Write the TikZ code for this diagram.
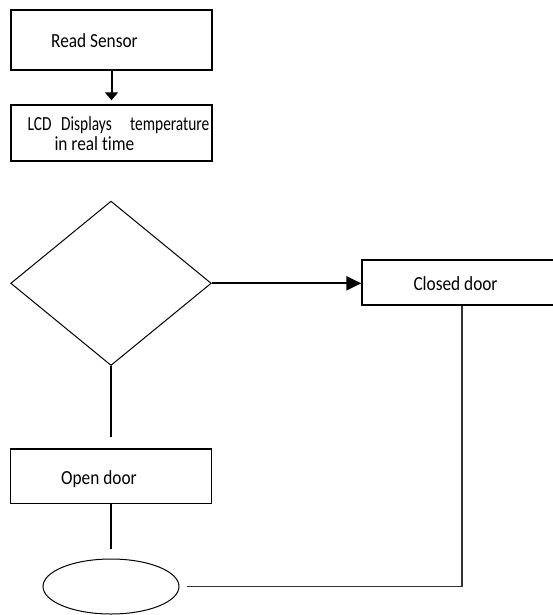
\documentclass[tikz,border=0pt]{standalone}
\usepackage{fontspec}
\setmainfont[RawFeature=-liga]{Carlito}
\usetikzlibrary{arrows.meta,shapes.geometric}
\newcommand\hsq[1]{\scalebox{0.865}[1]{#1}}
\newcommand\hsqn[1]{\scalebox{0.77}[1]{#1}}
\begin{document}
\begin{tikzpicture}[x=1pt,y=-1pt,
  box/.style={draw, rectangle, line width=1.4pt, inner sep=0pt},
  txt/.style={anchor=base west, inner sep=0pt, font=\fontsize{20}{24}\selectfont},
  flow/.style={line width=2pt},
  arr/.style={flow, -{Triangle[length=8pt,width=13pt]}},
  bigarr/.style={flow, -{Triangle[length=15pt,width=14pt]}},
  thinline/.style={line width=1pt}]
\useasboundingbox (0,0) rectangle (553,615);
\node[box, minimum width=201pt, minimum height=60pt] (read) at (111.5,40) {};
\node[box, minimum width=201pt, minimum height=56pt] (lcd) at (111.5,133) {};
\node[draw, diamond, thinline, minimum width=200.6pt, minimum height=164.4pt, inner sep=0pt] (dec) at (111,283.3) {};
\node[box, minimum width=200pt, minimum height=45pt] (closed) at (462,282.5) {};
\node[box, minimum width=200.6pt, minimum height=54.3pt] (open) at (111,476.2) {};
\node[draw, ellipse, thinline, minimum width=136pt, minimum height=55pt, inner sep=0pt] (end) at (111,586.5) {};
% texts
\node[txt] (treadsensor) at (51,47.7) {\hsq{Read Sensor}};
\node[txt] (tlcda) at (27.3,131) {\hsqn{LCD}};
\node[txt] (tlcdb) at (61,131) {\hsqn{Displays}};
\node[txt] (tlcdc) at (130,131) {\hsqn{temperature}};
\node[txt] (tlcd2) at (54.3,150) {\hsq{in real time}};
\node[txt] (tclosed) at (413.3,290) {\hsq{Closed door}};
\node[txt] (topen) at (61,484) {\hsq{Open door}};
% connectors
\draw[arr] (read.south) -- ([yshift=4pt]lcd.north);
\draw[bigarr] (dec.east) -- (dec.east -| closed.west);
\coordinate (d1) at (111,437);
\draw[flow] (dec.south) -- (d1);
\coordinate (o1) at (111,549);
\draw[flow] (open.south) -- (o1);
\coordinate (e1) at ([xshift=7pt]end.east);
\draw[line width=1.3pt, draw=black!80] (closed.south) |- (e1);
\end{tikzpicture}
\end{document}
